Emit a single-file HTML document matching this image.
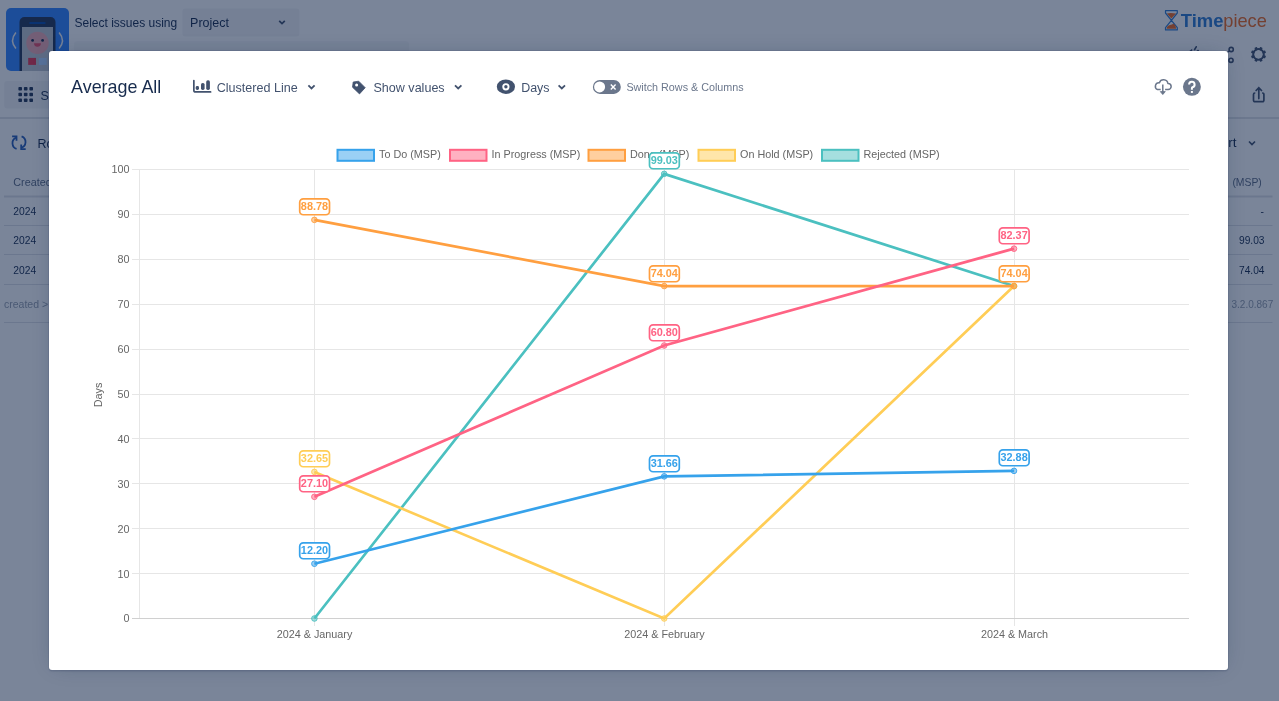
<!DOCTYPE html>
<html><head><meta charset="utf-8">
<style>
*{margin:0;padding:0;box-sizing:border-box}
html,body{width:1279px;height:701px;overflow:hidden;background:#fff;font-family:"Liberation Sans",sans-serif;position:relative}
svg{position:absolute;left:0;top:0;overflow:visible;will-change:transform}
.blanket{position:absolute;left:0;top:0;width:1279px;height:701px;background:rgba(9,30,66,0.54)}
.modal{position:absolute;left:49px;top:51px;width:1179px;height:619px;background:#fff;border-radius:3px;
 box-shadow:0 0 0 1px rgba(9,30,66,0.08),0 2px 1px rgba(9,30,66,0.08),0 0 20px -6px rgba(9,30,66,0.31)}
</style></head>
<body>
<svg width="1279" height="701" viewBox="0 0 1279 701" font-family="'Liberation Sans', sans-serif">
  <!-- project avatar -->
  <rect x="6" y="8" width="63" height="63" rx="5" fill="#3385FF"/>
  <path d="M19.5 71 V22 a5 5 0 0 1 5 -5 h26 a5 5 0 0 1 5 5 V71 Z" fill="#253858"/>
  <rect x="22" y="27" width="31" height="44" fill="#C1C7D0"/>
  <rect x="29.2" y="22" width="16.5" height="2" rx="1" fill="#0052CC" opacity=".7"/>
  <circle cx="37.5" cy="42.9" r="11.2" fill="#FFA0A8" opacity=".75"/>
  <circle cx="32.6" cy="40.4" r="1.4" fill="#172B4D"/><circle cx="42.6" cy="40.4" r="1.4" fill="#172B4D"/>
  <path d="M34 43.3 h6.9 a3.45 3.45 0 0 1 -6.9 0z" fill="#E84A66"/>
  <rect x="28.2" y="57.9" width="7.8" height="7" fill="#E8354F"/>
  <rect x="38.9" y="57.9" width="7.8" height="7" fill="#B3D4FF"/>
  <path d="M15.9 32.4 Q9.2 40.5 15.9 48.6" stroke="#F4F5F7" stroke-width="1.5" fill="none"/>
  <path d="M59.1 32.4 Q65.8 40.5 59.1 48.6" stroke="#F4F5F7" stroke-width="1.5" fill="none"/>

  <text x="74.5" y="27" font-size="12" fill="#172B4D">Select issues using</text>
  <rect x="182.4" y="8.6" width="117" height="28" rx="3" fill="#F4F5F7"/>
  <text x="190.1" y="27" font-size="12.5" fill="#172B4D">Project</text>
  <path d="M279.2 20.8 L282 23.6 L284.8 20.8" stroke="#42526E" stroke-width="1.7" fill="none"/>
  <rect x="74" y="41.2" width="335" height="30" rx="3" fill="#F7F8F9"/>

  <!-- timepiece logo -->
  <path d="M1165.5 10.7 H1177.3 V13 L1171.4 20.3 L1177.3 27.6 V29.9 H1165.5 V27.6 L1171.4 20.3 L1165.5 13 Z" fill="none" stroke="#2F7BD0" stroke-width="1.2" stroke-linejoin="round"/>
  <path d="M1166.8 13.5 Q1170 12.6 1176 13.5 L1171.4 18.5 Z" fill="#F06A20"/>
  <path d="M1166.6 28.8 Q1167 25.5 1170 25 Q1172 24.5 1173.5 23.8 Q1176 25 1176.2 28.8 Z" fill="#F06A20"/>
  <text x="1180.8" y="27.1" font-weight="bold" font-size="18.4" fill="#2F7BD0">Time</text>
  <text x="1223.3" y="27.1" font-size="18.2" fill="#F06A20">piece</text>

  <!-- top right icons -->
  <path d="M1189 51.2 L1192.2 48.8 L1192.2 51.2 Z" fill="#42526E"/>
  <path d="M1196.2 46.8 L1194.6 49.6" stroke="#42526E" stroke-width="1.7" stroke-linecap="round"/>
  <path d="M1196.8 50.4 H1199" stroke="#42526E" stroke-width="1" />
  <circle cx="1231.2" cy="49.5" r="2.1" fill="none" stroke="#42526E" stroke-width="1.6"/>
  <circle cx="1231" cy="60.3" r="2.1" fill="none" stroke="#42526E" stroke-width="1.6"/>
  <path d="M1229.5 50.8 L1226 53.5" stroke="#42526E" stroke-width="1.4"/>
  <g transform="translate(1258.5 54.4)" fill="#42526E"><circle r="5.3" fill="none" stroke="#42526E" stroke-width="2"/><rect x="-1.35" y="-7.6" width="2.7" height="3.2" rx=".5" transform="rotate(22.5)"/><rect x="-1.35" y="-7.6" width="2.7" height="3.2" rx=".5" transform="rotate(67.5)"/><rect x="-1.35" y="-7.6" width="2.7" height="3.2" rx=".5" transform="rotate(112.5)"/><rect x="-1.35" y="-7.6" width="2.7" height="3.2" rx=".5" transform="rotate(157.5)"/><rect x="-1.35" y="-7.6" width="2.7" height="3.2" rx=".5" transform="rotate(202.5)"/><rect x="-1.35" y="-7.6" width="2.7" height="3.2" rx=".5" transform="rotate(247.5)"/><rect x="-1.35" y="-7.6" width="2.7" height="3.2" rx=".5" transform="rotate(292.5)"/><rect x="-1.35" y="-7.6" width="2.7" height="3.2" rx=".5" transform="rotate(337.5)"/></g>
  <path d="M1255.3 93 H1254.9 A1.4 1.4 0 0 0 1253.5 94.4 V100.3 A1.4 1.4 0 0 0 1254.9 101.7 H1262.5 A1.4 1.4 0 0 0 1263.9 100.3 V94.4 A1.4 1.4 0 0 0 1262.5 93 H1262.1" fill="none" stroke="#42526E" stroke-width="1.7"/>
  <path d="M1258.8 98.6 V88 M1256.1 90.5 L1258.8 87.8 L1261.5 90.5" fill="none" stroke="#42526E" stroke-width="1.7" stroke-linecap="round"/>

  <!-- start button -->
  <rect x="4.2" y="81" width="130" height="27.4" rx="3" fill="#F4F5F7"/>
  <g fill="#253858">
    <rect x="18.4" y="87" width="3.6" height="3.6" rx=".8"/><rect x="23.9" y="87" width="3.6" height="3.6" rx=".8"/><rect x="29.4" y="87" width="3.6" height="3.6" rx=".8"/>
    <rect x="18.4" y="92.7" width="3.6" height="3.6" rx=".8"/><rect x="23.9" y="92.7" width="3.6" height="3.6" rx=".8"/><rect x="29.4" y="92.7" width="3.6" height="3.6" rx=".8"/>
    <rect x="18.4" y="98.4" width="3.6" height="3.6" rx=".8"/><rect x="23.9" y="98.4" width="3.6" height="3.6" rx=".8"/><rect x="29.4" y="98.4" width="3.6" height="3.6" rx=".8"/>
  </g>
  <text x="40.4" y="99.9" font-size="12.5" fill="#253858">Start</text>
  <rect x="0" y="117.5" width="1279" height="1" fill="#C1C7D0"/>

  <!-- refresh -->
  <path d="M16 137.6 A6.1 6.1 0 0 0 16.6 148.9" fill="none" stroke="#2A5FB8" stroke-width="1.8"/>
  <path d="M12.1 136.3 H16.5 V140.8" fill="none" stroke="#2A5FB8" stroke-width="1.8"/>
  <path d="M21.6 136.3 A6.1 6.1 0 0 1 21 147.9" fill="none" stroke="#2A5FB8" stroke-width="1.8"/>
  <path d="M21.2 144.6 V149.2 H25.7" fill="none" stroke="#2A5FB8" stroke-width="1.8"/>
  <text x="37.6" y="147.8" font-size="12.5" fill="#172B4D">Rows</text>
  <text x="1228.2" y="146.5" font-size="13.5" fill="#172B4D">rt</text>
  <path d="M1249 141.5 L1252 144.5 L1255 141.5" stroke="#42526E" stroke-width="1.7" fill="none"/>

  <text x="13.3" y="186" font-size="10.8" fill="#5E6C84">Created</text>
  <text x="1232.4" y="186.4" font-size="10.4" fill="#5E6C84">(MSP)</text>
  <rect x="4" y="195.5" width="1268.5" height="2" fill="#DFE1E6"/>
  <text x="13.3" y="215.3" font-size="10.3" fill="#172B4D">2024</text>
  <text x="1260.5" y="215.3" font-size="10.3" fill="#172B4D">-</text>
  <rect x="4" y="225" width="1268.5" height="1" fill="#DFE1E6"/>
  <text x="13.3" y="244.2" font-size="10.3" fill="#172B4D">2024</text>
  <text x="1239" y="244.3" font-size="10.2" fill="#172B4D">99.03</text>
  <rect x="4" y="254" width="1268.5" height="1" fill="#DFE1E6"/>
  <text x="13.3" y="274.2" font-size="10.3" fill="#172B4D">2024</text>
  <text x="1239" y="274.2" font-size="10.2" fill="#172B4D">74.04</text>
  <rect x="4" y="284" width="1268.5" height="1" fill="#DFE1E6"/>
  <text x="4" y="308" font-size="10.5" fill="#97A0AF">created &gt; 2024</text>
  <text x="1231.5" y="307.7" font-size="10" fill="#97A0AF">3.2.0.867</text>
  <rect x="4" y="322" width="1268.5" height="1" fill="#DFE1E6"/>
</svg>
<div class="blanket"></div>
<div class="modal"></div>

<svg width="1279" height="701" viewBox="0 0 1279 701" font-family="'Liberation Sans', sans-serif">
  <text x="71.1" y="93" font-size="17.9" fill="#172B4D">Average All</text>
  <!-- chart icon -->
  <path d="M193.85 80.6 V90.2 Q193.85 91.95 195.6 91.95 H210.6" fill="none" stroke="#42526E" stroke-width="1.7" stroke-linecap="round"/>
  <rect x="195.7" y="86" width="3.3" height="3.9" rx="1.4" fill="#42526E"/>
  <rect x="201" y="83" width="3.6" height="6.9" rx="1.6" fill="#42526E"/>
  <rect x="206.2" y="80.3" width="3.7" height="9.6" rx="1.6" fill="#42526E"/>
  <text x="216.7" y="91.6" font-size="12.57" fill="#42526E">Clustered Line</text>
  <path d="M308.4 85.3 L311.5 88.4 L314.6 85.3" stroke="#42526E" stroke-width="1.8" fill="none"/>
  <!-- tag -->
  <path d="M353.2 82 L358.7 81.2 L365.2 87.7 L359.5 93.9 L352.5 87.2 Z" fill="#42526E" stroke="#42526E" stroke-width=".8" stroke-linejoin="round"/>
  <circle cx="356.6" cy="85.1" r="1.5" fill="#fff"/>
  <text x="373.5" y="91.6" font-size="12.55" fill="#42526E">Show values</text>
  <path d="M455 85.3 L458.2 88.4 L461.4 85.3" stroke="#42526E" stroke-width="1.8" fill="none"/>
  <!-- eye -->
  <ellipse cx="505.9" cy="86.7" rx="9.1" ry="7.2" fill="#42526E"/>
  <circle cx="505.9" cy="86.8" r="3.6" fill="#fff"/>
  <circle cx="505.9" cy="86.8" r="1.7" fill="#42526E"/>
  <text x="521.2" y="92" font-size="12.45" fill="#42526E">Days</text>
  <path d="M558.6 85.3 L561.8 88.4 L565 85.3" stroke="#42526E" stroke-width="1.8" fill="none"/>
  <!-- toggle -->
  <rect x="592.9" y="79.9" width="27.9" height="14" rx="7" fill="#6B778C"/>
  <circle cx="599.6" cy="86.9" r="5.5" fill="#fff"/>
  <path d="M610.8 84.6 L615.6 89.6 M615.6 84.6 L610.8 89.6" stroke="#fff" stroke-width="1.4"/>
  <text x="626.4" y="91" font-size="10.77" fill="#6B778C">Switch Rows &amp; Columns</text>
  <!-- cloud download -->
  <path d="M1160.7 89.6 H1157.6 A3.6 3.6 0 0 1 1159.4 82.7 A4.4 4.4 0 0 1 1167.9 83.4 A3.1 3.1 0 0 1 1168.2 89.6 H1165.1" fill="none" stroke="#6B778C" stroke-width="1.5" stroke-linejoin="round"/>
  <path d="M1162.8 84.4 V94" fill="none" stroke="#6B778C" stroke-width="1.5"/>
  <path d="M1160.3 91.6 L1162.8 94.6 L1165.3 91.6 Z" fill="#6B778C" stroke="#6B778C" stroke-width=".8" stroke-linejoin="round"/>
  <!-- help -->
  <circle cx="1191.9" cy="86.8" r="8.95" fill="#6B778C"/>
  <path d="M1189.1 84.5 A2.75 2.75 0 1 1 1192.5 87.2 Q1191.9 87.5 1191.9 88.3 V89.8" fill="none" stroke="#fff" stroke-width="2"/>
  <rect x="1190.9" y="91" width="2" height="1.9" fill="#fff"/>
</svg>
<svg width="1279" height="701" viewBox="0 0 1279 701" style="position:absolute;left:0;top:0" font-family='"Liberation Sans", sans-serif'>
<line x1="132" y1="618.5" x2="1189" y2="618.5" stroke="#d0d0d0" stroke-width="1"/>
<text x="129.6" y="622.4" text-anchor="end" font-size="10.8" fill="#666">0</text>
<line x1="132" y1="573.5" x2="1189" y2="573.5" stroke="#e6e6e6" stroke-width="1"/>
<text x="129.6" y="577.5" text-anchor="end" font-size="10.8" fill="#666">10</text>
<line x1="132" y1="528.5" x2="1189" y2="528.5" stroke="#e6e6e6" stroke-width="1"/>
<text x="129.6" y="532.6" text-anchor="end" font-size="10.8" fill="#666">20</text>
<line x1="132" y1="483.5" x2="1189" y2="483.5" stroke="#e6e6e6" stroke-width="1"/>
<text x="129.6" y="487.7" text-anchor="end" font-size="10.8" fill="#666">30</text>
<line x1="132" y1="438.5" x2="1189" y2="438.5" stroke="#e6e6e6" stroke-width="1"/>
<text x="129.6" y="442.8" text-anchor="end" font-size="10.8" fill="#666">40</text>
<line x1="132" y1="394.5" x2="1189" y2="394.5" stroke="#e6e6e6" stroke-width="1"/>
<text x="129.6" y="397.9" text-anchor="end" font-size="10.8" fill="#666">50</text>
<line x1="132" y1="349.5" x2="1189" y2="349.5" stroke="#e6e6e6" stroke-width="1"/>
<text x="129.6" y="353.0" text-anchor="end" font-size="10.8" fill="#666">60</text>
<line x1="132" y1="304.5" x2="1189" y2="304.5" stroke="#e6e6e6" stroke-width="1"/>
<text x="129.6" y="308.1" text-anchor="end" font-size="10.8" fill="#666">70</text>
<line x1="132" y1="259.5" x2="1189" y2="259.5" stroke="#e6e6e6" stroke-width="1"/>
<text x="129.6" y="263.2" text-anchor="end" font-size="10.8" fill="#666">80</text>
<line x1="132" y1="214.5" x2="1189" y2="214.5" stroke="#e6e6e6" stroke-width="1"/>
<text x="129.6" y="218.3" text-anchor="end" font-size="10.8" fill="#666">90</text>
<line x1="132" y1="169.5" x2="1189" y2="169.5" stroke="#e6e6e6" stroke-width="1"/>
<text x="129.6" y="173.4" text-anchor="end" font-size="10.8" fill="#666">100</text>
<line x1="139.5" y1="169" x2="139.5" y2="619" stroke="#e6e6e6" stroke-width="1"/>
<line x1="314.5" y1="169" x2="314.5" y2="626" stroke="#e6e6e6" stroke-width="1"/>
<text x="314.5" y="638" text-anchor="middle" font-size="10.8" fill="#666">2024 &amp; January</text>
<line x1="664.5" y1="169" x2="664.5" y2="626" stroke="#e6e6e6" stroke-width="1"/>
<text x="664.5" y="638" text-anchor="middle" font-size="10.8" fill="#666">2024 &amp; February</text>
<line x1="1014.5" y1="169" x2="1014.5" y2="626" stroke="#e6e6e6" stroke-width="1"/>
<text x="1014.5" y="638" text-anchor="middle" font-size="10.8" fill="#666">2024 &amp; March</text>
<text transform="translate(102.1 394.9) rotate(-90)" text-anchor="middle" font-size="10.8" fill="#666">Days</text>
<line x1="132" y1="618.5" x2="1189" y2="618.5" stroke="#d0d0d0" stroke-width="1"/>
<rect x="337.5" y="149.8" width="36.5" height="11" fill="rgba(54,162,235,0.5)" stroke="rgb(54,162,235)" stroke-width="2"/>
<text x="379.0" y="157.6" font-size="10.8" fill="#666">To Do (MSP)</text>
<rect x="450" y="149.8" width="36.5" height="11" fill="rgba(255,99,132,0.5)" stroke="rgb(255,99,132)" stroke-width="2"/>
<text x="491.5" y="157.6" font-size="10.8" fill="#666">In Progress (MSP)</text>
<rect x="588.5" y="149.8" width="36.5" height="11" fill="rgba(255,159,64,0.5)" stroke="rgb(255,159,64)" stroke-width="2"/>
<text x="630.0" y="157.6" font-size="10.8" fill="#666">Done (MSP)</text>
<rect x="698.5" y="149.8" width="36.5" height="11" fill="rgba(255,205,86,0.5)" stroke="rgb(255,205,86)" stroke-width="2"/>
<text x="740.0" y="157.6" font-size="10.8" fill="#666">On Hold (MSP)</text>
<rect x="822" y="149.8" width="36.5" height="11" fill="rgba(75,192,192,0.5)" stroke="rgb(75,192,192)" stroke-width="2"/>
<text x="863.5" y="157.6" font-size="10.8" fill="#666">Rejected (MSP)</text>
<polyline points="314.4,618.50 664.2,173.86 1014.0,286.06" fill="none" stroke="rgb(75,192,192)" stroke-width="2.7" stroke-linejoin="miter"/>
<circle cx="314.4" cy="618.50" r="2.8" fill="rgba(75,192,192,0.5)" stroke="rgb(75,192,192)" stroke-width="0.9"/>
<circle cx="664.2" cy="173.86" r="2.8" fill="rgba(75,192,192,0.5)" stroke="rgb(75,192,192)" stroke-width="0.9"/>
<circle cx="1014.0" cy="286.06" r="2.8" fill="rgba(75,192,192,0.5)" stroke="rgb(75,192,192)" stroke-width="0.9"/>
<polyline points="314.4,471.90 664.2,618.50 1014.0,286.06" fill="none" stroke="rgb(255,205,86)" stroke-width="2.7" stroke-linejoin="miter"/>
<circle cx="314.4" cy="471.90" r="2.8" fill="rgba(255,205,86,0.5)" stroke="rgb(255,205,86)" stroke-width="0.9"/>
<circle cx="664.2" cy="618.50" r="2.8" fill="rgba(255,205,86,0.5)" stroke="rgb(255,205,86)" stroke-width="0.9"/>
<circle cx="1014.0" cy="286.06" r="2.8" fill="rgba(255,205,86,0.5)" stroke="rgb(255,205,86)" stroke-width="0.9"/>
<polyline points="314.4,219.88 664.2,286.06 1014.0,286.06" fill="none" stroke="rgb(255,159,64)" stroke-width="2.7" stroke-linejoin="miter"/>
<circle cx="314.4" cy="219.88" r="2.8" fill="rgba(255,159,64,0.5)" stroke="rgb(255,159,64)" stroke-width="0.9"/>
<circle cx="664.2" cy="286.06" r="2.8" fill="rgba(255,159,64,0.5)" stroke="rgb(255,159,64)" stroke-width="0.9"/>
<circle cx="1014.0" cy="286.06" r="2.8" fill="rgba(255,159,64,0.5)" stroke="rgb(255,159,64)" stroke-width="0.9"/>
<polyline points="314.4,496.82 664.2,345.51 1014.0,248.66" fill="none" stroke="rgb(255,99,132)" stroke-width="2.7" stroke-linejoin="miter"/>
<circle cx="314.4" cy="496.82" r="2.8" fill="rgba(255,99,132,0.5)" stroke="rgb(255,99,132)" stroke-width="0.9"/>
<circle cx="664.2" cy="345.51" r="2.8" fill="rgba(255,99,132,0.5)" stroke="rgb(255,99,132)" stroke-width="0.9"/>
<circle cx="1014.0" cy="248.66" r="2.8" fill="rgba(255,99,132,0.5)" stroke="rgb(255,99,132)" stroke-width="0.9"/>
<polyline points="314.4,563.72 664.2,476.35 1014.0,470.87" fill="none" stroke="rgb(54,162,235)" stroke-width="2.7" stroke-linejoin="miter"/>
<circle cx="314.4" cy="563.72" r="2.8" fill="rgba(54,162,235,0.5)" stroke="rgb(54,162,235)" stroke-width="0.9"/>
<circle cx="664.2" cy="476.35" r="2.8" fill="rgba(54,162,235,0.5)" stroke="rgb(54,162,235)" stroke-width="0.9"/>
<circle cx="1014.0" cy="470.87" r="2.8" fill="rgba(54,162,235,0.5)" stroke="rgb(54,162,235)" stroke-width="0.9"/>
<rect x="299.70" y="542.85" width="29.8" height="15.9" rx="3.6" fill="#fff" stroke="rgb(54,162,235)" stroke-width="1.7"/>
<text x="314.50" y="554.05" text-anchor="middle" font-size="10.9" font-weight="bold" fill="rgb(54,162,235)">12.20</text>
<rect x="649.50" y="455.85" width="29.8" height="15.9" rx="3.6" fill="#fff" stroke="rgb(54,162,235)" stroke-width="1.7"/>
<text x="664.30" y="467.05" text-anchor="middle" font-size="10.9" font-weight="bold" fill="rgb(54,162,235)">31.66</text>
<rect x="999.30" y="449.85" width="29.8" height="15.9" rx="3.6" fill="#fff" stroke="rgb(54,162,235)" stroke-width="1.7"/>
<text x="1014.10" y="461.05" text-anchor="middle" font-size="10.9" font-weight="bold" fill="rgb(54,162,235)">32.88</text>
<rect x="299.70" y="475.85" width="29.8" height="15.9" rx="3.6" fill="#fff" stroke="rgb(255,99,132)" stroke-width="1.7"/>
<text x="314.50" y="487.05" text-anchor="middle" font-size="10.9" font-weight="bold" fill="rgb(255,99,132)">27.10</text>
<rect x="649.50" y="324.85" width="29.8" height="15.9" rx="3.6" fill="#fff" stroke="rgb(255,99,132)" stroke-width="1.7"/>
<text x="664.30" y="336.05" text-anchor="middle" font-size="10.9" font-weight="bold" fill="rgb(255,99,132)">60.80</text>
<rect x="999.30" y="227.85" width="29.8" height="15.9" rx="3.6" fill="#fff" stroke="rgb(255,99,132)" stroke-width="1.7"/>
<text x="1014.10" y="239.05" text-anchor="middle" font-size="10.9" font-weight="bold" fill="rgb(255,99,132)">82.37</text>
<rect x="299.70" y="198.85" width="29.8" height="15.9" rx="3.6" fill="#fff" stroke="rgb(255,159,64)" stroke-width="1.7"/>
<text x="314.50" y="210.05" text-anchor="middle" font-size="10.9" font-weight="bold" fill="rgb(255,159,64)">88.78</text>
<rect x="649.50" y="265.85" width="29.8" height="15.9" rx="3.6" fill="#fff" stroke="rgb(255,159,64)" stroke-width="1.7"/>
<text x="664.30" y="277.05" text-anchor="middle" font-size="10.9" font-weight="bold" fill="rgb(255,159,64)">74.04</text>
<rect x="999.30" y="265.85" width="29.8" height="15.9" rx="3.6" fill="#fff" stroke="rgb(255,159,64)" stroke-width="1.7"/>
<text x="1014.10" y="277.05" text-anchor="middle" font-size="10.9" font-weight="bold" fill="rgb(255,159,64)">74.04</text>
<rect x="299.70" y="450.85" width="29.8" height="15.9" rx="3.6" fill="#fff" stroke="rgb(255,205,86)" stroke-width="1.7"/>
<text x="314.50" y="462.05" text-anchor="middle" font-size="10.9" font-weight="bold" fill="rgb(255,205,86)">32.65</text>
<rect x="649.50" y="152.85" width="29.8" height="15.9" rx="3.6" fill="#fff" stroke="rgb(75,192,192)" stroke-width="1.7"/>
<text x="664.30" y="164.05" text-anchor="middle" font-size="10.9" font-weight="bold" fill="rgb(75,192,192)">99.03</text>
</svg>
</body></html>
